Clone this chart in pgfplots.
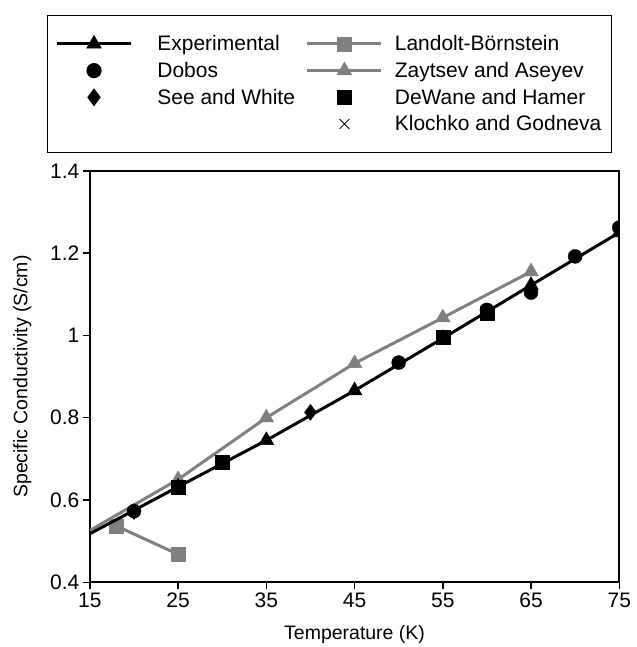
\documentclass[border=0pt]{standalone}
\usepackage{fontspec}
\setmainfont{Liberation Sans}
\usepackage{pgfplots}
\pgfplotsset{compat=1.18}
\usetikzlibrary{calc}
\definecolor{gr}{RGB}{128,128,128}
\newcommand{\tickfont}{\fontsize{21}{25}\selectfont}
\newcommand{\labfont}{\fontsize{19.5}{23}\selectfont}
\newcommand{\legfont}{\fontsize{21}{25}\selectfont}
\pgfplotsset{
  leg/.style={legend image code/.code={\draw[mark repeat=2,mark phase=2,##1] plot coordinates {(0pt,0pt)(37pt,0pt)(74pt,0pt)};}},
}
\begin{document}
\begin{tikzpicture}
\begin{axis}[
  name=ax,
  scale only axis,
  width=530pt, height=412pt,
  xmin=15, xmax=75, ymin=0.4, ymax=1.4,
  xtick={15,25,35,45,55,65,75},
  ytick={0.4,0.6,0.8,1,1.2,1.4},
  yticklabel style={/pgf/number format/fixed,/pgf/number format/precision=1},
  /pgf/number format/assume math mode=true,
  ticklabel style={font=\tickfont},
  tick pos=left, tick align=outside,
  major tick length=7pt,
  tick style={black, line width=1.5pt},
  axis line style={line width=1.8pt},
  xlabel={Temperature (K)}, ylabel={Specific Conductivity (S/cm)},
  label style={font=\labfont},
  xlabel style={yshift=-11pt},
  ylabel style={yshift=12pt},
  clip marker paths=true,
  legend columns=2,
  legend cell align=left,
  legend style={at={(-0.0811,1.3786)}, anchor=north west, draw=black, line width=1.2pt,
    inner xsep=8pt, inner ysep=18pt, font=\legfont,
    /tikz/column 1/.style={column sep=23pt},
    /tikz/column 2/.style={column sep=9pt},
    /tikz/column 3/.style={column sep=10pt},
    row sep=6pt},
]
% legend entries
\addlegendimage{leg, black, line width=3pt, mark=triangle*, mark size=8.5pt, mark options={solid,line width=0.5pt}}
\addlegendentry{Experimental}
\addlegendimage{leg, gr, line width=3pt, mark=square*, mark size=7pt, mark options={solid,line width=0.5pt}}
\addlegendentry{Landolt-Börnstein}
\addlegendimage{only marks, leg, black, mark=*, mark size=7pt}
\addlegendentry{Dobos}
\addlegendimage{leg, gr, line width=3pt, mark=triangle*, mark size=8.5pt, mark options={solid,line width=0.5pt}}
\addlegendentry{Zaytsev and Aseyev}
\addlegendimage{only marks, leg, black, mark=diamond*, mark size=8pt}
\addlegendentry{See and White}
\addlegendimage{only marks, leg, black, mark=square*, mark size=7pt}
\addlegendentry{DeWane and Hamer}
\addlegendimage{empty legend}
\addlegendentry{}
\addlegendimage{only marks, leg, black, mark=x, mark size=7pt, line width=0.8pt}
\addlegendentry{Klochko and Godneva}

% Zaytsev and Aseyev
\addplot[forget plot, gr, line width=3pt, mark=triangle*, mark size=8.5pt, mark options={solid,line width=0.5pt}, mark indices={2,3,4,5,6}]
coordinates {(15,0.526)(25,0.650)(35,0.800)(45,0.932)(55,1.043)(65,1.155)};
% Landolt-Bornstein
\addplot[forget plot, gr, line width=3pt, mark=square*, mark size=7pt, mark options={solid,line width=0.5pt}]
coordinates {(18,0.537)(25,0.468)};
% Experimental
\addplot[forget plot, black, line width=3pt, mark=triangle*, mark size=8.5pt, mark options={solid,line width=0.5pt}, mark indices={2,3,4,5,6,7}]
coordinates {(15,0.518)(25,0.632)(35,0.745)(45,0.866)(55,0.993)(65,1.122)(75,1.250)};
% Dobos
\addplot[forget plot, only marks, black, mark=*, mark size=7pt]
coordinates {(20,0.573)(50,0.934)(60,1.062)(65,1.104)(70,1.192)(75,1.262)};
% See and White
\addplot[forget plot, only marks, black, mark=diamond*, mark size=8pt]
coordinates {(20,0.572)(40,0.813)};
% DeWane and Hamer
\addplot[forget plot, only marks, black, mark=square*, mark size=7pt]
coordinates {(25,0.630)(30,0.691)(55,0.995)(60,1.055)};
\end{axis}
\path ($(ax.south west)+(-90pt,-64pt)$) rectangle ($(ax.south west)+(547pt,583pt)$);
\end{tikzpicture}
\end{document}
